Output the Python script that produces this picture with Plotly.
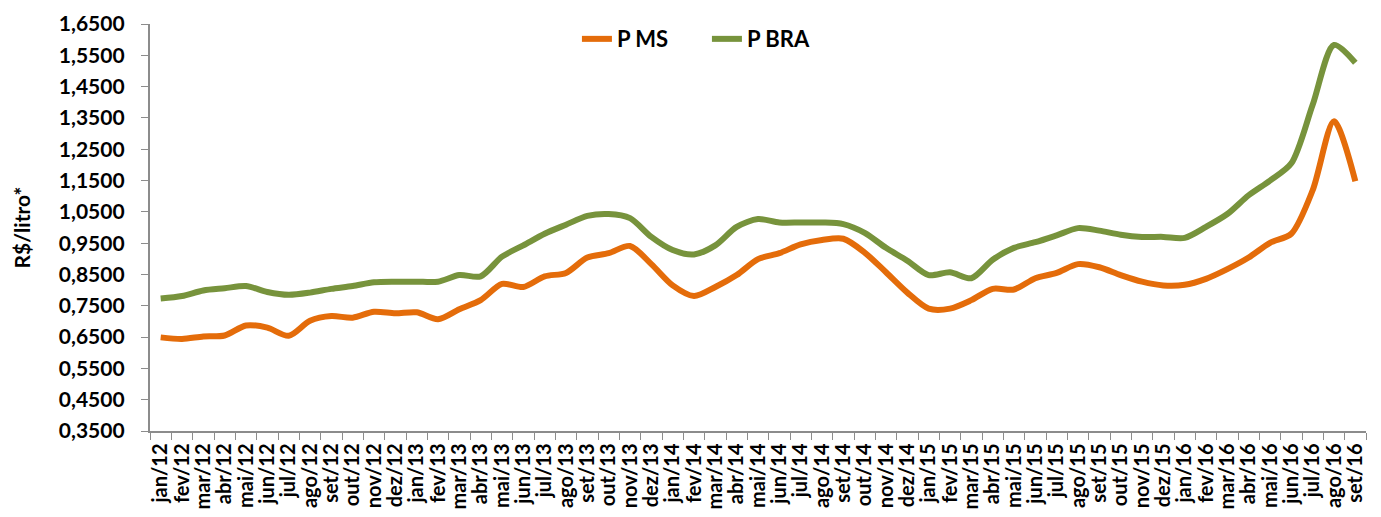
import plotly.graph_objects as go

meses = ["jan", "fev", "mar", "abr", "mai", "jun", "jul", "ago", "set", "out", "nov", "dez"]
categorias = [f"{m}/{a}" for a in ["12", "13", "14", "15", "16"] for m in meses][:57]

p_ms = [
    0.649, 0.644, 0.652, 0.655, 0.687, 0.680, 0.654, 0.702, 0.717, 0.712, 0.731, 0.726,
    0.729, 0.707, 0.739, 0.768, 0.820, 0.810, 0.844, 0.855, 0.904, 0.918, 0.941, 0.883,
    0.815, 0.781, 0.810, 0.848, 0.899, 0.918, 0.946, 0.960, 0.964, 0.920, 0.857, 0.792,
    0.741, 0.741, 0.768, 0.804, 0.802, 0.838, 0.855, 0.883, 0.873, 0.848, 0.827, 0.815,
    0.817, 0.836, 0.867, 0.904, 0.951, 0.980, 1.119, 1.339, 1.148,
]
p_bra = [
    0.773, 0.781, 0.799, 0.806, 0.813, 0.794, 0.785, 0.792, 0.804, 0.813, 0.825, 0.827,
    0.827, 0.827, 0.848, 0.844, 0.907, 0.943, 0.980, 1.009, 1.037, 1.043, 1.030, 0.970,
    0.928, 0.914, 0.943, 1.002, 1.027, 1.016, 1.016, 1.016, 1.011, 0.983, 0.935, 0.894,
    0.848, 0.857, 0.838, 0.897, 0.935, 0.953, 0.975, 0.998, 0.990, 0.977, 0.970, 0.970,
    0.967, 1.002, 1.043, 1.103, 1.150, 1.205, 1.392, 1.583, 1.526,
]

fonte = "Lato"
# espaços finais para afastar os rótulos dos eixos
espaco_y = "\u2007"
espaco_x = "\u2009"

fig = go.Figure()
fig.add_trace(go.Scatter(
    x=categorias, y=p_ms, name="P MS", mode="lines",
    line=dict(color="#E46C0A", width=6, shape="spline", smoothing=0.8),
))
fig.add_trace(go.Scatter(
    x=categorias, y=p_bra, name="P BRA", mode="lines",
    line=dict(color="#77933C", width=6, shape="spline", smoothing=0.8),
))

# a página tem margem de 8px no body, compensada aqui
fig.update_layout(
    width=1381, height=517,
    margin=dict(l=142, r=23, t=10, b=94),
    paper_bgcolor="white", plot_bgcolor="white",
    separators=",.",
    font=dict(family=fonte, size=15, color="black"),
    showlegend=True,
    legend=dict(
        orientation="h", x=0.458, y=0.963, xanchor="center", yanchor="middle",
        font=dict(family=fonte, size=22, color="black", weight="bold"),
        bgcolor="rgba(0,0,0,0)", entrywidth=85,
    ),
    xaxis=dict(
        type="category", tickangle=-90, tickson="boundaries", automargin=False,
        tickmode="linear", tick0=0, dtick=1, ticksuffix=espaco_x,
        showline=True, linecolor="#8c8c8c", linewidth=2,
        ticks="outside", ticklen=7, tickcolor="#8c8c8c",
        showgrid=False, range=[-0.5, 56.5],
        tickfont=dict(family=fonte, size=20, color="black", weight="bold"),
    ),
    yaxis=dict(
        range=[0.35, 1.65], tick0=0.35, dtick=0.1, tickformat=".4f", automargin=False,
        ticksuffix=espaco_y,
        showline=True, linecolor="#8c8c8c", linewidth=2,
        ticks="outside", ticklen=7, tickcolor="#8c8c8c",
        showgrid=False, zeroline=False,
        tickfont=dict(family=fonte, size=21, color="black", weight="bold"),
        title=dict(text="R$/litro*", standoff=22,
                   font=dict(family=fonte, size=21, color="black", weight="bold")),
    ),
)

fig.write_html("out.html")
